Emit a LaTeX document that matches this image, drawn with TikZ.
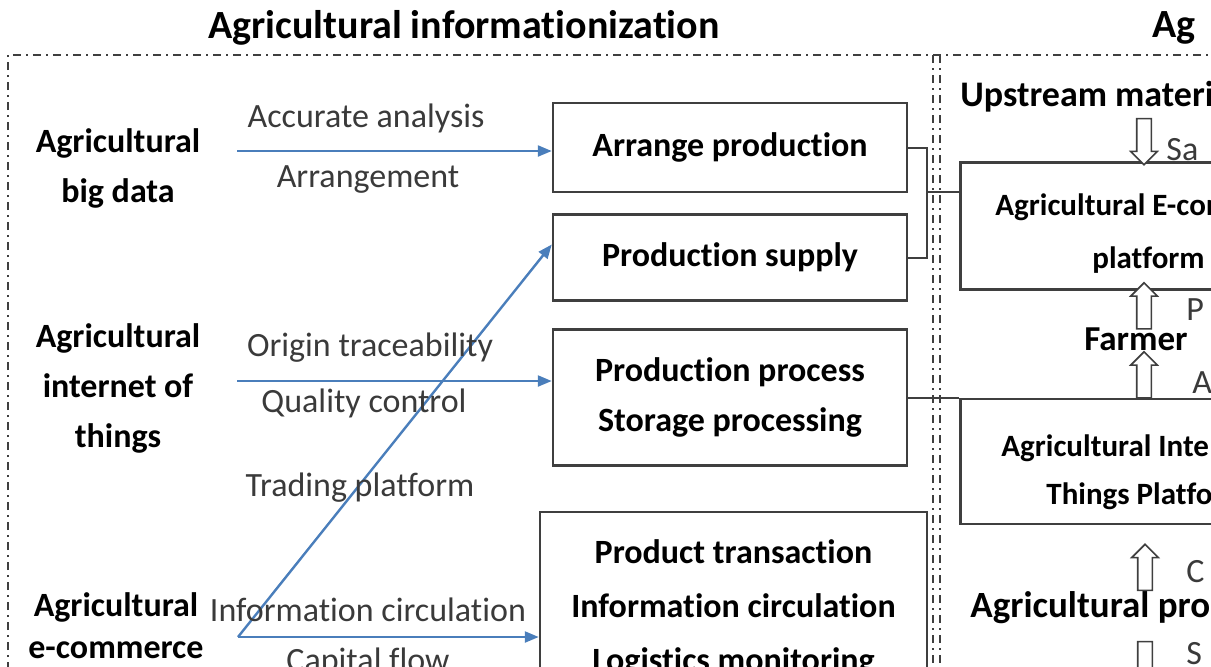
\documentclass[tikz,border=0pt]{standalone}
\usepackage{fontspec}
\setmainfont{Carlito}[Ligatures=NoCommon]
\usepackage{tikz}
\usetikzlibrary{arrows.meta,positioning,shapes.arrows,calc}

\definecolor{flowblue}{HTML}{4A7EBB}
\definecolor{framegray}{HTML}{3F3F3F}
\definecolor{labelgray}{HTML}{3A3A3A}

\begin{document}
\begin{tikzpicture}[
      x=0.5pt, y=-0.5pt, % coordenadas em pixels da figura
      >={Triangle[length=7pt,width=5.5pt]},
      box/.style={rectangle, draw=framegray, line width=1.25pt, minimum width=177pt,
        inner sep=0pt, align=center, font=\fontsize{17}{25}\selectfont\bfseries},
      platbox/.style={rectangle, draw=framegray, line width=1.25pt, anchor=north west,
        minimum width=250pt},
      srcname/.style={align=center, font=\fontsize{17}{25}\selectfont\bfseries},
      edgelabel/.style={font=\fontsize{17}{20}\selectfont, text=labelgray},
      sidetext/.style={anchor=west, inner sep=0pt, font=\fontsize{17}{20}\selectfont},
      plattext/.style={anchor=west, inner sep=0pt, font=\fontsize{15.5}{18}\selectfont\bfseries},
      flow/.style={->, flowblue, line width=1.2pt},
      link/.style={framegray, line width=1pt},
      frameline/.style={framegray, line width=1pt, dash pattern=on 4pt off 2.5pt on 1pt off 2.5pt},
      hollow/.style={single arrow, draw=framegray, fill=white, line width=0.8pt,
        minimum height=23pt, minimum width=12.5pt, single arrow head extend=3pt, inner sep=3.25pt},
  ]
      \useasboundingbox (0,0) rectangle (1211,666);
      \clip (0,0) rectangle (1211,666);

      % --- TITULOS E MOLDURA ---
      \node[font=\fontsize{20}{24}\selectfont\bfseries] (title) at (464,28) {Agricultural informationization};
      \node[sidetext, font=\fontsize{20}{24}\selectfont\bfseries] (title2) at (1152,28) {Ag};

      \coordinate (tl) at (8,55);
      \draw[frameline] (8,690) -- (tl) -- (1230,55);
      \draw[frameline] (933,55) -- (933,690);
      \draw[frameline] (940,55) -- (940,690);

      % --- FONTES DE INFORMACAO ---
      \node[srcname] (bigdata) at (118,168) {Agricultural\\big data};
      \node[srcname] (iot) at (118,388) {Agricultural\\internet of\\things};
      \node[srcname, font=\fontsize{17}{21}\selectfont\bfseries] (ecomsrc) at (116,626) {Agricultural\\e-commerce};

      % --- CAIXAS DE PRODUCAO ---
      \node[box, minimum height=44.5pt] (arrange) at (730,147.5) {Arrange production};
      \node[box, minimum height=43pt, below=10pt of arrange] (supply) {Production supply};
      \node[box, minimum height=68pt] (process) at (730,397.5) {Production process\\Storage processing};
      \node[box, minimum width=193.5pt, minimum height=96pt,
        font=\fontsize{17}{27}\selectfont\bfseries] (trade) at (733.5,608)
        {Product transaction\\Information circulation\\Logistics monitoring};

      % --- FLUXOS AZUIS ---
      \coordinate (bdout) at (237,151);
      \coordinate (iotout) at (237,381);
      \coordinate (ecout) at (238,637);
      \draw[flow] (bdout) -- (bdout -| arrange.west);
      \draw[flow] (iotout) -- (iotout -| process.west);
      \draw[flow] (ecout) -- (ecout -| trade.west);
      \draw[flow] (ecout) -- ([yshift=6.5pt]supply.west);

      \node[edgelabel] (lbacc) at (366,118) {Accurate analysis};
      \node[edgelabel] (lbarr) at (368,180) {Arrangement};
      \node[edgelabel] (lbori) at (370,348) {Origin traceability};
      \node[edgelabel] (lbqua) at (364,403) {Quality control};
      \node[edgelabel] (lbtra) at (360,488) {Trading platform};
      \node[edgelabel] (lbinf) at (368,610) {Information circulation};
      \node[edgelabel] (lbcap) at (368,662) {Capital flow};

      % --- PLATAFORMAS ---
      \node[platbox, minimum height=63.5pt] (ecomplat) at (959,161) {};
      \node[platbox, minimum height=62.5pt] (iotplat) at (959,397.5) {};
      \node[plattext] (ecomname) at (995,207) {Agricultural E-com};
      \node[plattext] (ecomname2) at (1092,260) {platform};
      \node[plattext] (iotname) at (1001,448) {Agricultural Inte};
      \node[plattext] (iotname2) at (1046,496) {Things Platfo};

      \coordinate (brk) at (927,192);
      \draw[link] (arrange.east) -| (brk) |- (supply.east);
      \draw[link] (brk) -- (brk -| ecomplat.west);
      \draw[link] (process.east) -- (process.east -| iotplat.west);

      % --- CADEIA A DIREITA ---
      \node[sidetext, font=\fontsize{18}{21}\selectfont\bfseries] (upstream) at (960,97) {Upstream materi};
      \node[font=\fontsize{17.5}{20}\selectfont\bfseries] (farmer) at (1136,339) {Farmer};
      \node[sidetext, font=\fontsize{18.5}{21}\selectfont\bfseries] (product) at (970,608) {Agricultural pro};

      \node[hollow, shape border rotate=270] (harr1) at (1144,138) {};
      \node[hollow, shape border rotate=90] (harr2) at (1144,309.5) {};
      \node[hollow, shape border rotate=90] (harr3) at (1144,378.5) {};
      \node[hollow, shape border rotate=90] (harr4) at (1145,571) {};
      \node[hollow, shape border rotate=270] (harr5) at (1145,661) {};

      \node[sidetext, text=labelgray] (lbsa) at (1166,150) {Sa};
      \node[sidetext, text=labelgray] (lbp) at (1186,310) {P};
      \node[sidetext, text=labelgray] (lba) at (1192,383) {A};
      \node[sidetext, text=labelgray] (lbc) at (1186,572) {C};
      \node[sidetext, text=labelgray] (lbs) at (1186,654) {S};

  \end{tikzpicture}
\end{document}
